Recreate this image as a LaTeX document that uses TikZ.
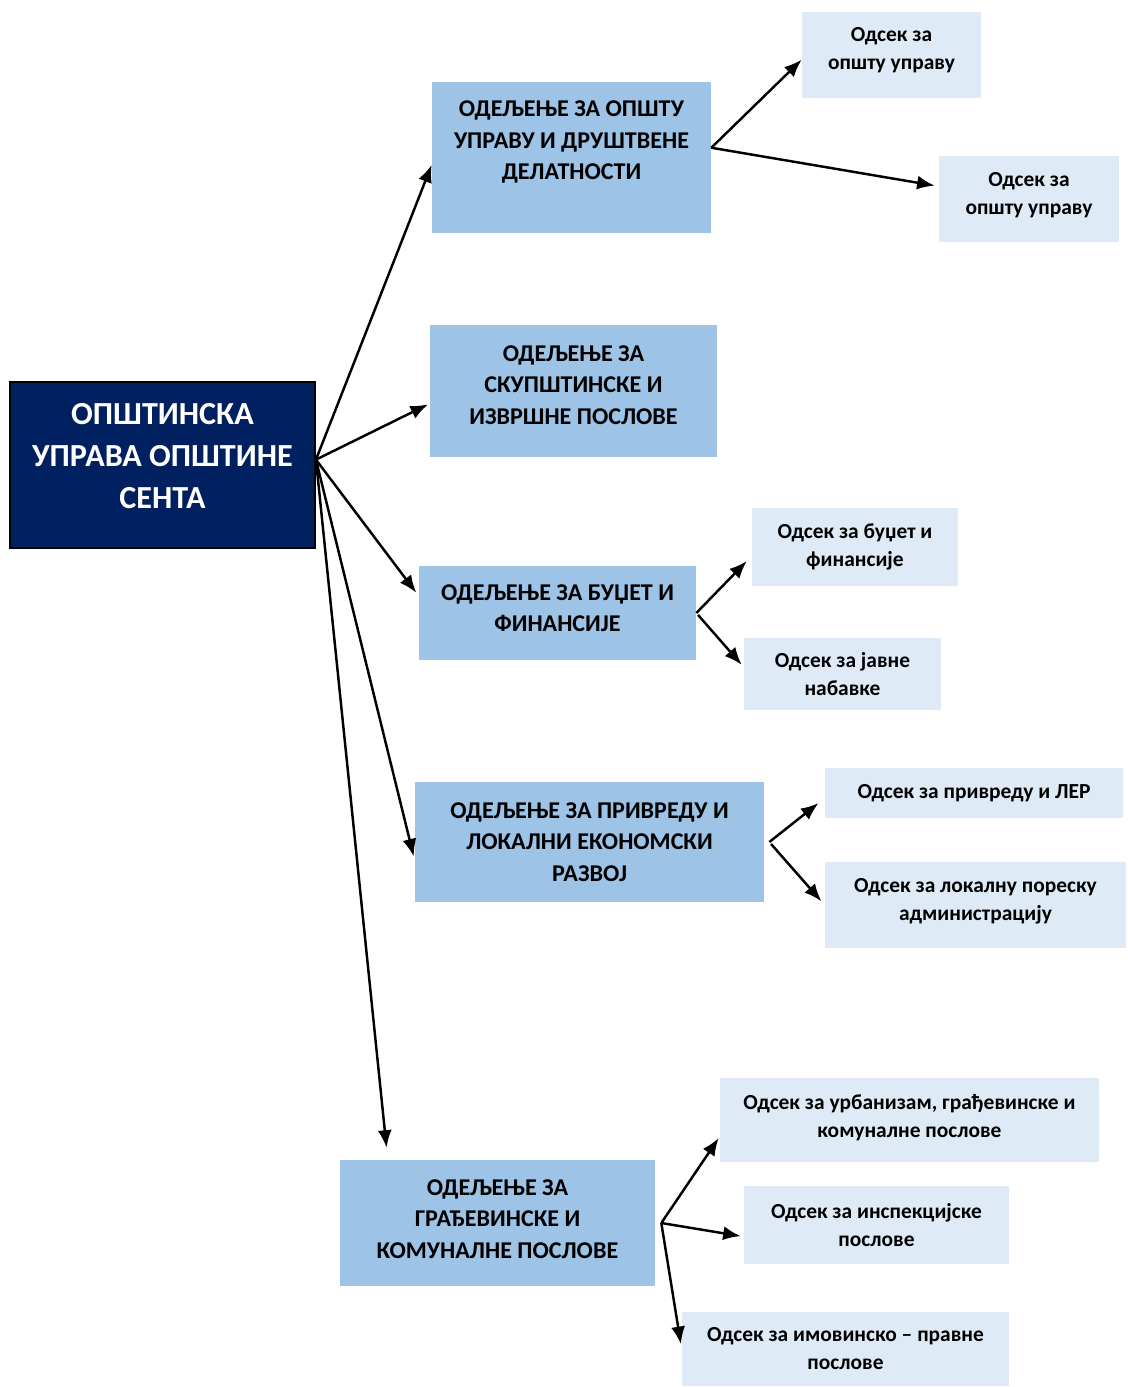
\documentclass[tikz,border=0pt]{standalone}
\usepackage{fontspec}
\setmainfont{Carlito}
\usepackage{xcolor}
\usetikzlibrary{arrows.meta}
\definecolor{navyblue}{HTML}{002060}
\definecolor{deptblue}{HTML}{9DC3E6}
\definecolor{secblue}{HTML}{DEEBF7}

\begin{document}
\begin{tikzpicture}[x=0.02cm, y=-0.02cm,
  mainbox/.style={draw=black, line width=1.1pt, fill=navyblue, text=white, align=center, inner sep=0pt, font=\fontsize{18.3}{24}\selectfont\bfseries},
  deptbox/.style={fill=deptblue, align=center, inner sep=0pt, font=\fontsize{13.7}{17.9}\selectfont\bfseries},
  secbox/.style={fill=secblue, align=center, inner sep=0pt, font=\fontsize{12.2}{15.9}\selectfont\bfseries},
  arr/.style={line width=1.4pt, -{Latex[length=10pt, width=8pt]}}]
\useasboundingbox (0,0) rectangle (1127,1387);
% Main box
\node[mainbox, minimum width=6.1cm, minimum height=3.32cm, text depth=10pt] (uprava) at (162.5,465) {ОПШТИНСКА\\ УПРАВА ОПШТИНЕ\\ СЕНТА};
% Departments
\node[deptbox, minimum width=5.58cm, minimum height=3.02cm] (dept1) at (571.5,157.5) {ОДЕЉЕЊЕ ЗА ОПШТУ\\ УПРАВУ И ДРУШТВЕНЕ\\ ДЕЛАТНОСТИ\\[-3.5pt] \strut};
\node[deptbox, minimum width=5.74cm, minimum height=2.64cm, text depth=6.8pt] (dept2) at (573.5,391) {ОДЕЉЕЊЕ ЗА\\ СКУПШТИНСКЕ И\\ ИЗВРШНЕ ПОСЛОВЕ};
\node[deptbox, minimum width=5.54cm, minimum height=1.88cm, text depth=5.7pt] (dept3) at (557.5,613) {ОДЕЉЕЊЕ ЗА БУЏЕТ И\\ ФИНАНСИЈЕ};
\node[deptbox, minimum width=6.98cm, minimum height=2.4cm] (dept4) at (589.5,842) {ОДЕЉЕЊЕ ЗА ПРИВРЕДУ И\\ ЛОКАЛНИ ЕКОНОМСКИ\\ РАЗВОЈ};
\node[deptbox, minimum width=6.3cm, minimum height=2.52cm, text depth=4.5pt] (dept5) at (497.5,1223) {ОДЕЉЕЊЕ ЗА\\ ГРАЂЕВИНСКЕ И\\ КОМУНАЛНЕ ПОСЛОВЕ};
% Sections
\node[secbox, minimum width=3.58cm, minimum height=1.72cm, text depth=7pt] (sec11) at (891.5,55) {Одсек за\\ општу управу};
\node[secbox, minimum width=3.6cm, minimum height=1.72cm, text depth=6pt] (sec12) at (1029,199) {Одсек за\\ општу управу};
\node[secbox, minimum width=4.12cm, minimum height=1.56cm] (sec31) at (855,547) {Одсек за буџет и\\ финансије};
\node[secbox, minimum width=3.94cm, minimum height=1.44cm] (sec32) at (842.5,674) {Одсек за јавне\\ набавке};
\node[secbox, minimum width=5.96cm, minimum height=1.0cm] (sec41) at (974,793) {Одсек за привреду и ЛЕР};
\node[secbox, minimum width=6.02cm, minimum height=1.72cm, text depth=6pt] (sec42) at (975.5,905) {Одсек за локалну пореску\\ администрацију};
\node[secbox, minimum width=7.58cm, minimum height=1.68cm, text depth=5pt] (sec51) at (909.5,1120) {Одсек за урбанизам, грађевинске и\\ комуналне послове};
\node[secbox, minimum width=5.3cm, minimum height=1.56cm] (sec52) at (876.5,1225) {Одсек за инспекцијске\\ послове};
\node[secbox, minimum width=6.54cm, minimum height=1.48cm] (sec53) at (845.5,1349) {Одсек за имовинско -- правне\\ послове};
% Branch points
\coordinate (hub4) at ([xshift=0.1cm]dept4.east);
\coordinate (hub5) at ([xshift=0.12cm]dept5.east);
% Main to departments
\draw[arr] (uprava.2) -- (dept1.183);
\draw[arr, shorten >=1pt] (uprava.2) -- (dept2.185);
\draw[arr, shorten >=2.3pt] (uprava.2) -- (dept3.173);
\draw[arr, shorten >=2.3pt] (uprava.2) -- (dept4.186);
\draw[arr, shorten >=6.8pt] (uprava.2) -- (dept5.150);
% Departments to sections
\draw[arr] (dept1.4) -- (sec11.183);
\draw[arr, shorten >=2.3pt] (dept1.4) -- (sec12.172);
\draw[arr, shorten >=4pt] (dept3.east) -- (sec31.185);
\draw[arr, shorten <=1.5pt, shorten >=1.7pt] (dept3.east) -- (sec32.176);
\draw[arr, shorten >=4.5pt] (hub4) -- (sec41.182);
\draw[arr, shorten <=1.5pt, shorten >=2.8pt] (hub4) -- (sec42.west);
\draw[arr, shorten >=1pt] (hub5) -- (sec51.185);
\draw[arr, shorten >=1.7pt] (hub5) -- (sec52.185);
\draw[arr, shorten >=2.8pt] (hub5) -- (sec53.west);
\end{tikzpicture}
\end{document}
